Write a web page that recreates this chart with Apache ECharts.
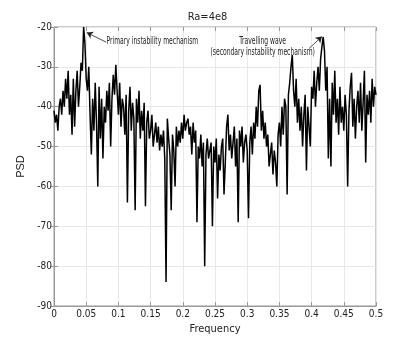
<!DOCTYPE html>
<html>
<head>
<meta charset="utf-8">
<script src="https://cdn.jsdelivr.net/npm/echarts@6/dist/echarts.min.js"></script>
<style>
  html, body { margin: 0; padding: 0; background: #fff; }
  #chart { width: 415px; height: 346px; }
</style>
</head>
<body>
<div id="chart"></div>
<script>
// frequency step of the spectrum
var freqStep = 0.002;

// PSD values (dB), one per frequency bin
var psd = [
  -41, -44, -42, -46, -40,   // 0.00
  -38, -42, -36, -40, -33,   // 0.01
  -38, -31, -42, -37, -47,   // 0.02
  -33, -45, -36, -31, -40,   // 0.03
  -35, -29, -31, -20, -24,   // 0.04
  -33, -36, -30, -42, -52,   // 0.05
  -38, -46, -34, -44, -60,   // 0.06
  -35, -48, -38, -53, -40,   // 0.07
  -44, -36, -41, -34, -50,   // 0.08
  -38, -32, -37, -29.5, -36, // 0.09
  -42, -34, -45, -38, -40,   // 0.10
  -47, -37, -64, -41, -35,   // 0.11
  -46, -39, -43, -66, -38,   // 0.12
  -44, -36, -48, -41, -46,   // 0.13
  -39, -65, -44, -41, -48,   // 0.14
  -46, -42, -50, -47, -44,   // 0.15
  -49, -45, -51, -47, -50,   // 0.16
  -46, -53, -84, -43, -48,   // 0.17
  -52, -66, -47, -51, -60,   // 0.18
  -45, -50, -46, -49, -44,   // 0.19
  -48, -42, -46, -44, -43,   // 0.20
  -47, -45, -52, -44, -49,   // 0.21
  -46, -69, -50, -53, -47,   // 0.22
  -55, -49, -80, -52, -48,   // 0.23
  -53, -51, -49, -70, -50,   // 0.24
  -54, -48, -63, -52, -56,   // 0.25
  -50, -48, -62, -54, -45,   // 0.26
  -42, -51, -47, -53, -49,   // 0.27
  -45, -55, -48, -69, -46,   // 0.28
  -50, -45, -54, -49, -47,   // 0.29
  -51, -68, -49, -45, -52,   // 0.30
  -44, -48, -40, -45, -36,   // 0.31
  -34.5, -46, -41, -48, -44, // 0.32
  -50, -47, -55, -52, -49,   // 0.33
  -57, -51, -54, -60, -47,   // 0.34
  -44, -50, -40, -47, -38,   // 0.35
  -40, -62, -37, -34, -30,   // 0.36
  -27, -36, -40, -33, -44,   // 0.37
  -38, -46, -40, -50, -42,   // 0.38
  -37, -56, -40, -45, -50,   // 0.39
  -35, -38, -31, -40, -34,   // 0.40
  -30, -36, -28, -25, -22.5, // 0.41
  -26, -36, -30, -53, -38,   // 0.42
  -55, -34, -42, -31, -44,   // 0.43
  -38, -47, -35, -44, -40,   // 0.44
  -46, -37, -42, -60, -41,   // 0.45
  -35, -31.5, -45, -38, -48, // 0.46
  -40, -36, -44, -34, -46,   // 0.47
  -39, -31, -54, -37, -42,   // 0.48
  -36, -44, -33, -40, -35,   // 0.49
  -37                        // 0.50
];

var yTicks = [-90, -80, -70, -60, -50, -40, -30, -20];
var xTicks = ['0', '0.05', '0.1', '0.15', '0.2', '0.25', '0.3', '0.35', '0.4', '0.45', '0.5'];

// annotation texts and where they sit (data coords)
var notes = [
    { text: 'Primary instability mechanism', at: [0.0815, -23.6], align: 'left' },
    { text: 'Travelling wave', at: [0.324, -23.5], align: 'center' },
    { text: '(secondary instability mechanism)', at: [0.324, -26.3], align: 'center' }
];

var seriesData = psd.map(function (v, i) {
    return [+(i * freqStep).toFixed(3), v];
});

var tickFont = 'DejaVu Sans Condensed, Liberation Sans, sans-serif';
var gridColor = '#e8e8e8';
var axisColor = '#999';

var myChart = echarts.init(document.getElementById('chart'));
var option = {
    animation: false,
    backgroundColor: '#fff',
    title: {
        text: 'Ra=4e8',
        left: 'center',
        top: 7,
        textStyle: { fontFamily: tickFont, fontSize: 11, fontWeight: 'normal', color: '#222' }
    },
    grid: {
        left: 54, right: 39, top: 27, bottom: 40,
        show: true, borderColor: axisColor, borderWidth: 1
    },
    xAxis: [{
        type: 'value', min: 0, max: 0.5, interval: 0.05,
        name: 'Frequency', nameLocation: 'middle', nameGap: 17,
        nameTextStyle: { fontFamily: tickFont, fontSize: 11, color: '#222' },
        axisLine: { lineStyle: { color: axisColor } },
        axisTick: { inside: true, length: 4, lineStyle: { color: axisColor } },
        axisLabel: {
            fontFamily: tickFont, fontSize: 10, color: '#222', margin: 3,
            formatter: function (v) { return xTicks[Math.round(v / 0.05)]; }
        },
        splitLine: { show: true, lineStyle: { color: gridColor } }
    }, {
        type: 'value', min: 0, max: 0.5, interval: 0.05, position: 'top',
        axisLine: { show: false },
        axisTick: { inside: true, length: 4, lineStyle: { color: axisColor } },
        axisLabel: { show: false }, splitLine: { show: false }
    }],
    yAxis: [{
        type: 'value', min: -90, max: -20, interval: 10,
        name: 'PSD', nameLocation: 'middle', nameGap: 19,
        nameTextStyle: { fontFamily: 'Liberation Sans, sans-serif', fontSize: 11, color: '#222' },
        axisLine: { show: true, lineStyle: { color: axisColor } },
        axisTick: { show: true, inside: true, length: 4, lineStyle: { color: axisColor } },
        axisLabel: { fontFamily: tickFont, fontSize: 10, color: '#222', margin: 2 },
        splitLine: { show: true, lineStyle: { color: gridColor } }
    }, {
        type: 'value', min: -90, max: -20, interval: 10, position: 'right',
        axisLine: { show: false },
        axisTick: { show: true, inside: true, length: 4, lineStyle: { color: axisColor } },
        axisLabel: { show: false }, splitLine: { show: false }
    }],
    series: [{
        type: 'line',
        data: seriesData,
        showSymbol: false,
        lineStyle: { color: '#000', width: 1.5 },
        markLine: {
            silent: true,
            symbol: ['none', 'arrow'],
            symbolSize: 6,
            label: { show: false },
            lineStyle: { color: '#222', width: 0.8, type: 'solid' },
            data: [
                [{ coord: [0.081, -23.8] }, { coord: [0.051, -21.4] }],
                [{ coord: [0.396, -25.4] }, { coord: [0.416, -22.4] }]
            ]
        }
    }]
};
myChart.setOption(option);

// annotation text, squeezed horizontally like the narrow original font
myChart.setOption({
    graphic: notes.map(function (n) {
        var p = myChart.convertToPixel({ gridIndex: 0 }, n.at);
        return {
            type: 'text',
            x: p[0], y: p[1],
            scaleX: 0.64,
            silent: true,
            style: {
                text: n.text,
                fontFamily: tickFont, fontSize: 10.5, fill: '#222',
                align: n.align, verticalAlign: 'middle'
            }
        };
    })
});
</script>
</body>
</html>
